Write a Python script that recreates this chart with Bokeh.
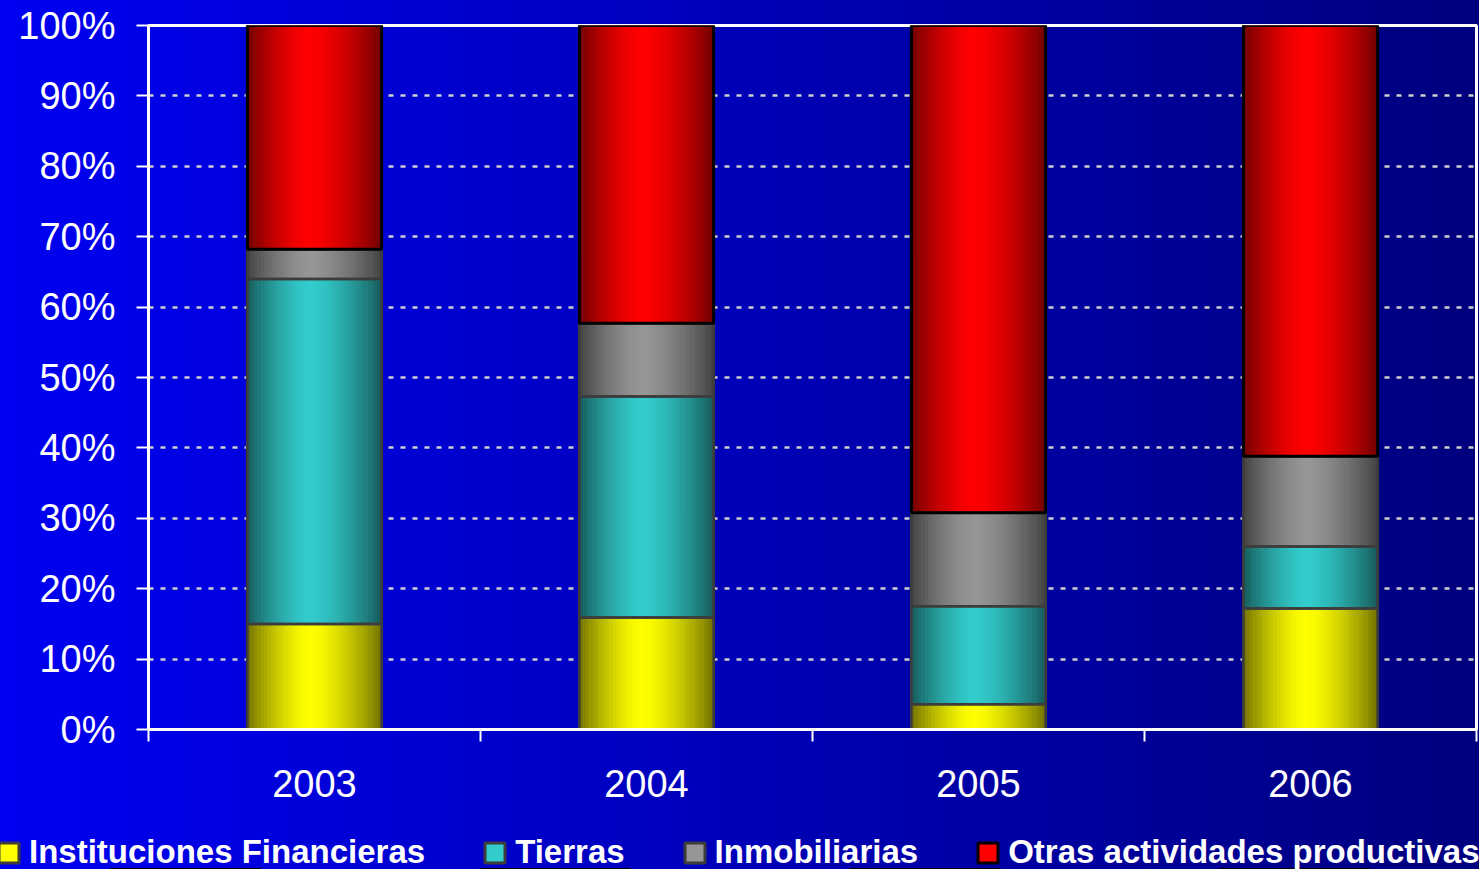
from bokeh.plotting import figure
from bokeh.layouts import column
from bokeh.models import (Range1d, FixedTicker, PrintfTickFormatter,
                          ColumnDataSource, Legend, LegendItem, GlobalInlineStyleSheet)
from bokeh.transform import dodge
from bokeh.embed import file_html
from bokeh.resources import INLINE

# ---- data (percent of total) ----
years = ["2003", "2004", "2005", "2006"]
series_names = ["Instituciones Financieras", "Tierras", "Inmobiliarias", "Otras actividades productivas"]
instituciones = [15.0, 15.9, 3.6, 17.2]
tierras = [49.0, 31.4, 13.9, 8.8]
inmobiliarias = [4.2, 10.4, 13.3, 12.8]
otras = [31.8, 42.3, 69.2, 61.2]
y_ticks = [0, 10, 20, 30, 40, 50, 60, 70, 80, 90, 100]

series_values = [instituciones, tierras, inmobiliarias, otras]
base_rgb = [(255, 255, 0), (51, 204, 204), (150, 150, 150), (255, 0, 0)]
border_cols = ["#3c3c3c", "#3c3c3c", "#3c3c3c", "#000000"]

BAR_W = 0.404
N_STRIPS = 40
xpos = [i + 0.5 for i in range(len(years))]   # category centres on a 0..N axis

p = figure(width=1479, height=821, output_backend="svg", toolbar_location=None,
           x_range=Range1d(0, len(years)), y_range=Range1d(0, 100),
           min_border_left=148, min_border_right=3, min_border_top=25, min_border_bottom=92)
p.frame_align = False

p.background_fill_color = None
p.border_fill_color = None
p.outline_line_color = "white"
p.outline_line_width = 3
p.stylesheets = [GlobalInlineStyleSheet(css=
    "html{background:linear-gradient(to right,#0000f2,#00007e) !important;min-height:100%;}"
    "body{background:transparent !important;}")]

# stacked bottoms/tops
bottoms, tops = [], []
run = [0.0] * len(years)
for vals in series_values:
    b = list(run)
    t = [run[i] + vals[i] for i in range(len(years))]
    bottoms.append(b)
    tops.append(t)
    run = t

def shade(rgb, t):
    peak = 0.47
    d = (peak - t) / peak if t < peak else (t - peak) / (1 - peak)
    f = 1 - 0.55 * d ** 1.5
    return "#%02x%02x%02x" % tuple(int(round(c * f)) for c in rgb)

def hexc(rgb):
    return "#%02x%02x%02x" % rgb

# base fill
for k, name in enumerate(series_names):
    src = ColumnDataSource(dict(x=xpos, year=years, bottom=bottoms[k], top=tops[k]))
    p.vbar(x="x", bottom="bottom", top="top", width=BAR_W, source=src,
           fill_color=hexc(base_rgb[k]), line_color=border_cols[k], line_width=3)

# gradient strips (cylinder shading)
rows_x, rows_bottom, rows_top, rows_series = [], [], [], []
for k in range(len(series_names)):
    for i in range(len(years)):
        rows_x.append(xpos[i])
        rows_bottom.append(bottoms[k][i])
        rows_top.append(tops[k][i])
        rows_series.append(k)
data = dict(x=rows_x, bottom=rows_bottom, top=rows_top)
sw = BAR_W / N_STRIPS
for s in range(N_STRIPS):
    t = (s + 0.5) / N_STRIPS
    data["c%d" % s] = [shade(base_rgb[k], t) for k in rows_series]
strip_src = ColumnDataSource(data)
for s in range(N_STRIPS):
    off = -BAR_W / 2 + (s + 0.5) * sw
    p.vbar(x=dodge("x", off), bottom="bottom", top="top", width=sw * 1.15,
           source=strip_src, fill_color="c%d" % s, line_color=None)

# outlines
for k in range(len(series_names)):
    src = ColumnDataSource(dict(x=xpos, bottom=bottoms[k], top=tops[k]))
    p.vbar(x="x", bottom="bottom", top="top", width=BAR_W, source=src,
           fill_color=None, line_color=border_cols[k],
           line_width=3 if k == 3 else 2.5)

# axes
tick_font = "Liberation Sans"
xa = p.xaxis[0]
xa.ticker = FixedTicker(ticks=xpos, minor_ticks=list(range(len(years) + 1)))
xa.major_label_overrides = {xpos[i]: y for i, y in enumerate(years)}
xa.major_tick_out = 0
xa.major_tick_in = 0
xa.minor_tick_out = 12
xa.minor_tick_in = 0
xa.minor_tick_line_color = "white"
xa.minor_tick_line_width = 2
xa.axis_line_color = "white"
xa.axis_line_width = 3
xa.major_label_text_color = "white"
xa.major_label_text_font = tick_font
xa.major_label_text_font_size = "38px"
xa.major_label_standoff = 28

ya = p.yaxis[0]
ya.ticker = FixedTicker(ticks=y_ticks)
ya.formatter = PrintfTickFormatter(format="%d%%")
ya.major_tick_out = 12
ya.major_tick_in = 0
ya.major_tick_line_color = "white"
ya.major_tick_line_width = 2
ya.minor_tick_line_color = None
ya.axis_line_color = "white"
ya.axis_line_width = 3
ya.major_label_text_color = "white"
ya.major_label_text_font = tick_font
ya.major_label_text_font_size = "38px"
ya.major_label_standoff = 21

p.xgrid.visible = False
p.ygrid.ticker = FixedTicker(ticks=y_ticks[1:-1])
p.ygrid.grid_line_color = "#d0d0d0"
p.ygrid.grid_line_dash = "5 7"
p.ygrid.grid_line_width = 2.5

# ---- legend strip below the chart ----
# its view range lies above 100 %, so its bars (the same series) are only seen as legend keys
pl = figure(width=1479, height=48, output_backend="svg", toolbar_location=None,
            x_range=Range1d(0, len(years)), y_range=Range1d(200, 300),
            x_axis_location=None, y_axis_location=None,
            min_border_left=0, min_border_right=0, min_border_top=0, min_border_bottom=0)
pl.frame_align = False
pl.background_fill_color = None
pl.border_fill_color = None
pl.outline_line_color = None
pl.grid.visible = False
leg_renderers = []
for k in range(len(series_names)):
    src = ColumnDataSource(dict(x=xpos, bottom=bottoms[k], top=tops[k]))
    leg_renderers.append(pl.vbar(x="x", bottom="bottom", top="top", width=BAR_W, source=src,
                                 fill_color=hexc(base_rgb[k]), line_color=border_cols[k], line_width=3))
legend = Legend(items=[LegendItem(label=n, renderers=[r]) for n, r in zip(series_names, leg_renderers)],
                orientation="horizontal", location=(-4, -2),
                background_fill_alpha=0, border_line_color=None,
                padding=0, margin=0, spacing=57, label_standoff=8,
                glyph_width=25, glyph_height=25,
                label_text_color="white", label_text_font=tick_font,
                label_text_font_size="33px", label_text_font_style="bold")
pl.add_layout(legend)

layout = column(p, pl, spacing=0)
open("out.html", "w").write(file_html(layout, INLINE))
